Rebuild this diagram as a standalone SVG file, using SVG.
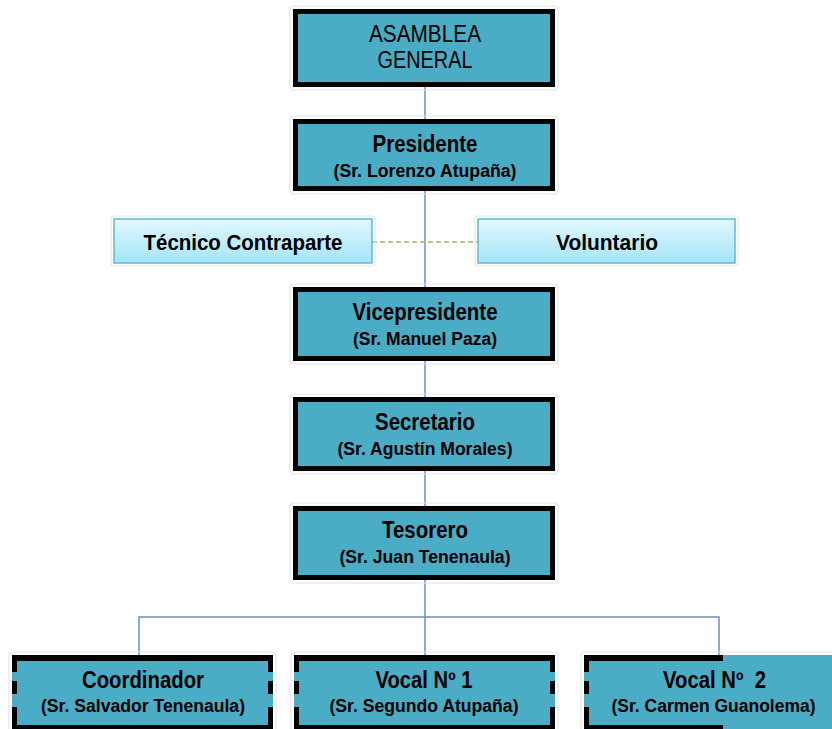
<svg xmlns="http://www.w3.org/2000/svg" width="832" height="729" viewBox="0 0 832 729">
<defs>
<linearGradient id="lg" x1="0" y1="0" x2="0" y2="1">
<stop offset="0" stop-color="#e2f7fd"/>
<stop offset="1" stop-color="#a3e5f7"/>
</linearGradient>
</defs>
<style>
.halo{fill:none;stroke:#e6e6e6;stroke-width:1.2}
.main{fill:#4bacc6;stroke:#000;stroke-width:5}
.teal{fill:#4bacc6}
.blk{fill:#000}
.light{fill:url(#lg);stroke:#5fb9d2;stroke-width:1.5}
.t{font-family:"Liberation Sans",Arial,sans-serif;fill:#000;text-anchor:middle}
.b{font-weight:bold}
.conn{stroke:#6a8fc4;stroke-width:1.5;fill:none}
.dash{stroke:#9bbb59;stroke-width:1.5;stroke-dasharray:5 3;fill:none}
.vb{stroke:#000;stroke-width:5;stroke-dasharray:17 9 13 13 22 10}
</style>
<g id="connectors">
<line class="conn" x1="425" y1="87" x2="425" y2="657"/>
<polyline class="conn" points="139,657 139,617 719,617 719,657"/>
<line class="dash" x1="372" y1="242" x2="478" y2="242"/>
</g>
<g id="asamblea">
<rect class="halo" x="290" y="6" width="268" height="84" rx="3"/>
<rect class="main" x="295.5" y="11.5" width="257" height="73"/>
<text class="t" font-size="24" x="425" y="42" textLength="112" lengthAdjust="spacingAndGlyphs">ASAMBLEA</text>
<text class="t" font-size="24" x="425" y="68" textLength="95" lengthAdjust="spacingAndGlyphs">GENERAL</text>
</g>
<g id="presidente">
<rect class="halo" x="290" y="116" width="268" height="78" rx="3"/>
<rect class="main" x="295.5" y="121.5" width="257" height="67"/>
<text class="t b" font-size="23" x="425" y="152" textLength="105" lengthAdjust="spacingAndGlyphs">Presidente</text>
<text class="t b" font-size="17.5" x="425" y="177" textLength="183" lengthAdjust="spacingAndGlyphs">(Sr. Lorenzo Atupaña)</text>
</g>
<g id="tecnico">
<rect class="halo" x="111" y="216" width="264" height="50" rx="3"/>
<rect class="light" x="114" y="219" width="258" height="44"/>
<text class="t b" font-size="22" x="243" y="250" textLength="199" lengthAdjust="spacingAndGlyphs">Técnico Contraparte</text>
</g>
<g id="voluntario">
<rect class="halo" x="475" y="216" width="263" height="50" rx="3"/>
<rect class="light" x="478" y="219" width="257" height="44"/>
<text class="t b" font-size="22" x="607" y="250" textLength="102" lengthAdjust="spacingAndGlyphs">Voluntario</text>
</g>
<g id="vicepresidente">
<rect class="halo" x="290" y="284" width="268" height="80" rx="3"/>
<rect class="main" x="295.5" y="289.5" width="257" height="69"/>
<text class="t b" font-size="23" x="425" y="320" textLength="145" lengthAdjust="spacingAndGlyphs">Vicepresidente</text>
<text class="t b" font-size="17.5" x="425" y="345" textLength="144" lengthAdjust="spacingAndGlyphs">(Sr. Manuel Paza)</text>
</g>
<g id="secretario">
<rect class="halo" x="290" y="394" width="268" height="80" rx="3"/>
<rect class="main" x="295.5" y="399.5" width="257" height="69"/>
<text class="t b" font-size="23" x="425" y="430" textLength="100" lengthAdjust="spacingAndGlyphs">Secretario</text>
<text class="t b" font-size="17.5" x="425" y="455" textLength="175" lengthAdjust="spacingAndGlyphs">(Sr. Agustín Morales)</text>
</g>
<g id="tesorero">
<rect class="halo" x="290" y="503" width="268" height="80" rx="3"/>
<rect class="main" x="295.5" y="508.5" width="257" height="69"/>
<text class="t b" font-size="23" x="425" y="538" textLength="86" lengthAdjust="spacingAndGlyphs">Tesorero</text>
<text class="t b" font-size="17.5" x="425" y="563" textLength="171" lengthAdjust="spacingAndGlyphs">(Sr. Juan Tenenaula)</text>
</g>
<g id="coordinador">
<rect class="halo" x="9" y="652" width="267" height="80" rx="3"/>
<rect class="teal" x="12" y="655" width="261" height="74"/>
<rect class="blk" x="12" y="655" width="261" height="6"/>
<rect class="blk" x="12" y="725" width="261" height="4"/>
<line class="vb" x1="14.5" y1="655" x2="14.5" y2="729"/>
<line class="vb" x1="270.5" y1="655" x2="270.5" y2="729"/>
<text class="t b" font-size="23" x="143" y="688" textLength="122" lengthAdjust="spacingAndGlyphs">Coordinador</text>
<text class="t b" font-size="17.5" x="143" y="712" textLength="204" lengthAdjust="spacingAndGlyphs">(Sr. Salvador Tenenaula)</text>
</g>
<g id="vocal1">
<rect class="halo" x="291" y="652" width="267" height="80" rx="3"/>
<rect class="teal" x="294" y="655" width="261" height="74"/>
<rect class="blk" x="294" y="655" width="261" height="6"/>
<rect class="blk" x="294" y="725" width="261" height="4"/>
<line class="vb" x1="296.5" y1="655" x2="296.5" y2="729"/>
<line class="vb" x1="552.5" y1="655" x2="552.5" y2="729"/>
<text class="t b" font-size="23" x="424" y="688" textLength="97" lengthAdjust="spacingAndGlyphs">Vocal Nº 1</text>
<text class="t b" font-size="17.5" x="424" y="712" textLength="189" lengthAdjust="spacingAndGlyphs">(Sr. Segundo Atupaña)</text>
</g>
<g id="vocal2">
<rect class="halo" x="581" y="652" width="267" height="80" rx="3"/>
<rect class="teal" x="584" y="655" width="261" height="74"/>
<rect class="blk" x="584" y="655" width="139" height="6"/>
<rect class="blk" x="584" y="725" width="139" height="4"/>
<line class="vb" x1="586.5" y1="655" x2="586.5" y2="729"/>
<rect class="teal" x="723" y="661" width="109" height="68"/>
<text class="t b" font-size="23" x="714.5" y="688" textLength="103" lengthAdjust="spacingAndGlyphs">Vocal Nº&#160; 2</text>
<text class="t b" font-size="17.5" x="713.5" y="712" textLength="204" lengthAdjust="spacingAndGlyphs">(Sr. Carmen Guanolema)</text>
</g>
</svg>
